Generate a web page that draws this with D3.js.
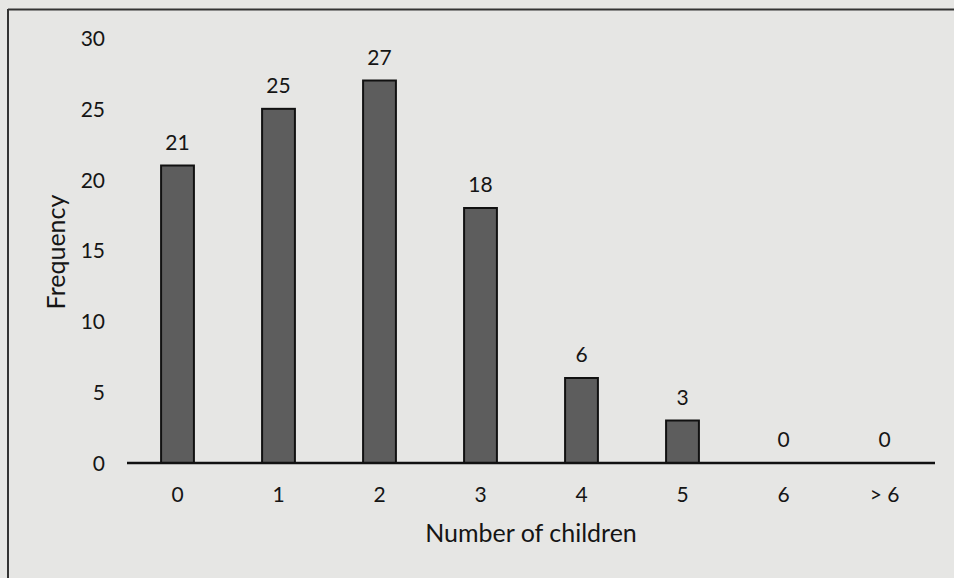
<!DOCTYPE html>
<html>
<head>
<meta charset="utf-8">
<script src="https://cdn.jsdelivr.net/npm/d3@7"></script>
<style>
  html, body { margin: 0; padding: 0; background: #e6e6e4; }
  svg { display: block; }
  text { font-family: Lato, "Open Sans", sans-serif; fill: #151515; }
</style>
</head>
<body>
<svg id="chart" width="954" height="578"></svg>
<script>
const categories = ["0", "1", "2", "3", "4", "5", "6", "> 6"];
const frequencies = [21, 25, 27, 18, 6, 3, 0, 0];
const yTicks = [0, 5, 10, 15, 20, 25, 30];
const xTitle = "Number of children";
const yTitle = "Frequency";

const svg = d3.select("#chart");
const W = 954, H = 578;
const FS = 21;

svg.append("rect").attr("width", W).attr("height", H).attr("fill", "#e6e6e4");

// outer frame (top and left edges visible)
svg.append("line").attr("x1", 8).attr("x2", W).attr("y1", 9.5).attr("y2", 9.5)
  .attr("stroke", "#333").attr("stroke-width", 2);
svg.append("line").attr("x1", 8).attr("x2", 8).attr("y1", 9).attr("y2", H)
  .attr("stroke", "#333").attr("stroke-width", 2);

const x = d3.scaleBand().domain(categories).range([127, 935]).paddingInner(0.675).paddingOuter(0.3375);
const y = d3.scaleLinear().domain([0, 30]).range([463, 38]);

// bars
svg.append("g").selectAll("rect").data(frequencies).join("rect")
  .attr("x", (d, i) => x(categories[i]))
  .attr("width", x.bandwidth())
  .attr("y", d => y(d))
  .attr("height", d => y(0) - y(d))
  .attr("fill", "#5d5d5d")
  .attr("stroke", "#111")
  .attr("stroke-width", 2)
  .attr("display", d => d > 0 ? null : "none");

// y axis labels (no axis line)
const yAxis = d3.axisLeft(y).tickValues(yTicks).tickSize(0).tickPadding(0);
const gy = svg.append("g").attr("transform", "translate(105,0)").call(yAxis);
gy.select(".domain").remove();
gy.selectAll("text").attr("font-size", FS).attr("font-family", "Lato, sans-serif").attr("fill", "#151515").attr("dy", "0.35em");

// x axis
const xAxis = d3.axisBottom(x).tickSize(0).tickPadding(24);
const gx = svg.append("g").attr("transform", `translate(0,${y(0)})`).call(xAxis);
gx.select(".domain").attr("stroke", "#111").attr("stroke-width", 2.5).attr("d", `M127,0H935`);
gx.selectAll("text").attr("font-size", FS).attr("font-family", "Lato, sans-serif").attr("fill", "#151515");

// value labels
svg.append("g").selectAll("text").data(frequencies).join("text")
  .attr("x", (d, i) => x(categories[i]) + x.bandwidth() / 2)
  .attr("y", d => y(d) - 16)
  .attr("text-anchor", "middle")
  .attr("font-size", FS)
  .text(d => d);

// axis titles
svg.append("text").attr("x", 531).attr("y", 542).attr("text-anchor", "middle")
  .attr("font-size", 25).text(xTitle);
svg.append("text").attr("transform", "translate(65,252) rotate(-90)").attr("text-anchor", "middle")
  .attr("font-size", 25).text(yTitle);
</script>
</body>
</html>
